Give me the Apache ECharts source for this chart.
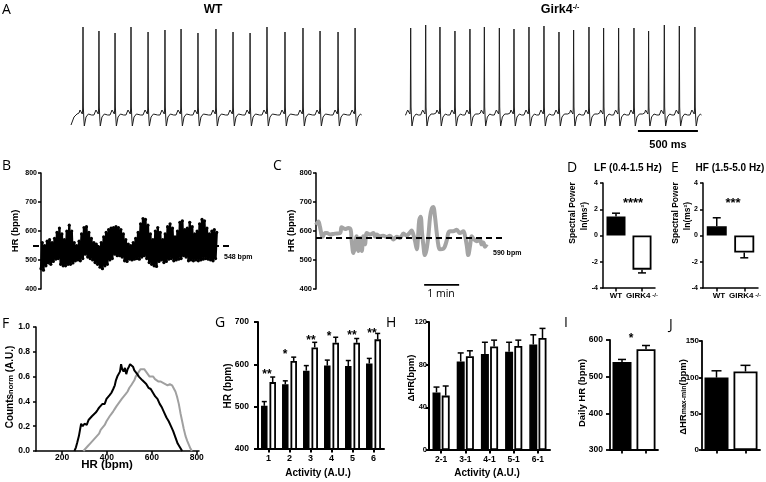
<!DOCTYPE html>
<html><head><meta charset="utf-8">
<script src="https://cdn.jsdelivr.net/npm/echarts@6/dist/echarts.min.js"></script>
<style>html,body{margin:0;padding:0;background:#fff}#c{width:766px;height:482px}</style>
</head><body><div id="c"></div><script>
// ---------- DATA ----------
// Panel A: ECG beats (time in ms, R amplitude in trace units)
const wtBeatTimes = [100,233,367,500,642,783,917,1058,1208,1350,1492,1633,1783,1933,2075,2225,2367];
const wtBeatPeaks = [88,84,82,88,83,85,86,82,86,83,82,88,83,87,84,83,87];
const koBeatTimes = [39,164,283,408,533,653,778,900,1025,1150,1275,1397,1525,1647,1772,1900,2022,2153,2278,2408];
const koBeatPeaks = [87,90,88,84,86,88,87,86,88,89,83,85,88,87,87,87,84,90,89,88];
const beatShapeMs  = [-62,-50,-42,-33,-25,-17,-10,-6,-3,0,3,7,11,17,25,33,45,55];
const beatShapeAmp = [0,1,0,2,5,3,4,1,6,null,8,-4,-11,-9,-2,-1,1,0];
const wtLead = [[0,-10],[25,-2]];
const koScaleStart = 1933, koScaleLen = 500, koScaleY = -16;
// Panel B: HR scatter envelope (low / high per time column)
const bHi = [560,550,565,570,560,575,595,610,590,570,600,620,600,560,550,565,590,612,615,595,575,560,555,545,560,580,595,605,610,612,615,612,605,590,570,555,550,560,575,595,625,643,640,620,590,570,600,612,595,570,590,615,625,610,580,600,630,635,605,610,630,615,590,600,625,640,635,610,590,600,605,595];
const bLo = [470,465,480,490,485,495,503,505,485,480,480,485,485,490,497,500,497,505,520,510,505,500,491,485,475,470,480,485,500,505,520,515,515,510,497,495,503,500,503,505,503,510,515,505,491,485,480,478,495,500,491,495,503,505,497,500,503,505,515,510,497,500,497,500,497,500,503,505,503,500,497,505];
const bMean = 548;
// Panel C: HR trace (minutes, bpm)
const cTimeMin = [0,0.07,0.11,0.19,0.26,0.31,0.4,0.54,0.69,0.73,0.83,0.92,0.99,1.02,1.07,1.11,1.16,1.21,1.26,1.31,1.35,1.4,1.45,1.54,1.64,1.69,1.73,1.83,1.92,2.02,2.11,2.21,2.31,2.4,2.5,2.59,2.69,2.73,2.78,2.83,2.88,2.92,2.95,2.99,3.03,3.07,3.11,3.16,3.21,3.26,3.31,3.35,3.4,3.45,3.5,3.54,3.64,3.73,3.78,3.83,3.92,4.02,4.11,4.21,4.26,4.31,4.35,4.4,4.45,4.5,4.59,4.69,4.73,4.78,4.83,4.88];
const cHR = [621,633,616,580,593,593,588,591,593,613,607,610,604,565,524,543,582,531,576,531,582,554,593,588,593,580,588,582,584,579,584,571,580,576,591,584,596,602,588,565,537,588,638,649,593,548,517,537,582,649,678,683,649,593,548,537,539,565,593,599,599,604,593,599,582,548,517,548,582,573,565,569,554,560,546,554];
const cMean = 576;
const cScaleStart = 3.09, cScaleLen = 1, cScaleY = 414;
// Panels D, E: spectral power
const dVals = [1.45,-2.6], dErr = [1.7,-2.85];
const eVals = [0.7,-1.3],  eErr = [1.35,-1.7];
// Panel F: HR histograms
const fBlackHR = [255,262,268,275,280,285,292,300,310,318,325,333,340,350,358,365,372,380,390,398,405,412,420,428,435,440,446,452,458,463,468,474,480,486,492,498,503,510,516,522,528,535,542,550,558,566,575,585,595,605,615,625,635,645,655,665,675,685,695,705,715,725,735];
const fBlackVal = [0,0.03,0.07,0.12,0.17,0.22,0.2,0.22,0.21,0.25,0.24,0.28,0.27,0.31,0.33,0.35,0.34,0.38,0.38,0.42,0.41,0.45,0.47,0.5,0.53,0.57,0.6,0.6,0.64,0.7,0.66,0.64,0.67,0.62,0.66,0.68,0.7,0.71,0.68,0.65,0.64,0.62,0.6,0.59,0.57,0.56,0.54,0.51,0.5,0.47,0.44,0.42,0.38,0.35,0.31,0.27,0.24,0.2,0.16,0.11,0.06,0.03,0];
const fGrayHR = [295,305,315,325,335,345,355,365,372,380,390,398,405,412,420,428,435,442,450,458,466,475,484,492,500,508,515,522,528,535,543,550,558,566,574,582,590,598,606,614,622,630,640,650,660,670,680,690,698,705,712,720,728,735,742,750,758,765,772,778];
const fGrayVal = [0,0.02,0.04,0.06,0.08,0.1,0.12,0.14,0.17,0.18,0.21,0.24,0.26,0.28,0.3,0.32,0.34,0.36,0.38,0.4,0.42,0.44,0.46,0.48,0.51,0.53,0.55,0.57,0.6,0.62,0.63,0.66,0.65,0.66,0.64,0.63,0.6,0.59,0.6,0.58,0.57,0.56,0.56,0.55,0.54,0.53,0.54,0.53,0.52,0.48,0.44,0.38,0.3,0.24,0.18,0.12,0.08,0.05,0.02,0];
// Panel G
const gCats = ['1','2','3','4','5','6'];
const gWT = [502,553,585,597,596,602], gWTErr = [512,561,597,610,609,614];
const gKO = [558,608,640,651,651,659], gKOErr = [570,617,652,664,661,673];
// Panel H
const hCats = ['2-1','3-1','4-1','5-1','6-1'];
const hWT = [54,83,90,92,99], hWTErr = [59,91,101,101,108];
const hKO = [51,88,97,97.5,105], hKOErr = [60,93,103,103,114];
// Panels I, J
const iVals = [540,575], iErr = [547,585];
const jVals = [99.6,108], jErr = [109,116.5];
const genoCats = ['WT','GIRK4'];

// ---------- BUILD ----------
const FONT = 'Liberation Sans';
function buildEcg(times, peaks, lead) {
  const pts = lead.slice();
  times.forEach((t0, k) => beatShapeMs.forEach((dt, j) => {
    pts.push([t0 + dt, beatShapeAmp[j] === null ? peaks[k] : beatShapeAmp[j]]);
  }));
  return pts;
}
const bPts = [];
bHi.forEach((h, i) => { bPts.push([i, bLo[i]]); bPts.push([i + 0.5, h]); });

function grid(l, t, w, h) { return {left:l, top:t, width:w, height:h, containLabel:false, outerBoundsMode:'none', show:false}; }
function yAx(gi, min, max, interval, fs, lw, margin, tick, fmt) {
  return {type:'value', gridIndex:gi, min, max, interval,
    axisLine:{show:true, lineStyle:{color:'#000', width:lw}},
    axisTick:{show:true, length:tick, lineStyle:{color:'#000', width:lw}},
    axisLabel:{show:true, color:'#000', fontSize:fs, fontWeight:'bold', fontFamily:FONT, margin, formatter:fmt},
    splitLine:{show:false}};
}
function xCat(gi, data, fs, lw, showLabel, margin) {
  return {type:'category', gridIndex:gi, data,
    axisLine:{show:true, onZero:false, lineStyle:{color:'#000', width:lw}},
    axisTick:{show:true, alignWithLabel:true, length:3.5, lineStyle:{color:'#000', width:lw}},
    axisLabel:{show:showLabel, color:'#000', fontSize:fs, fontWeight:'bold', fontFamily:FONT, margin:margin || 5, interval:0},
    splitLine:{show:false}};
}
function hx(gi, min, max) { return {type:'value', gridIndex:gi, min, max, show:false}; }
function hy(gi, min, max) { return {type:'value', gridIndex:gi, min, max, show:false}; }

function errSeries(ai, means, errs, off, cap, lw) {
  return {type:'custom', xAxisIndex:ai, yAxisIndex:ai, z:5,
    data: means.map((m, i) => [i, m, errs[i]]),
    renderItem: (params, api) => {
      const c = api.value(0);
      const p0 = api.coord([c, api.value(1)]), p1 = api.coord([c, api.value(2)]);
      const x = p0[0] + off;
      return {type:'group', children:[
        {type:'line', shape:{x1:x, y1:p0[1], x2:x, y2:p1[1]}, style:{stroke:'#000', lineWidth:lw}},
        {type:'line', shape:{x1:x-cap, y1:p1[1], x2:x+cap, y2:p1[1]}, style:{stroke:'#000', lineWidth:lw}}
      ]};
    }};
}
const BLK = {color:'#000', borderColor:'#000', borderWidth:1.5};
const WHT = {color:'#fff', borderColor:'#000', borderWidth:1.8};
function pairBar(ai, vals, style, bw, gap) {
  return {type:'bar', xAxisIndex:ai, yAxisIndex:ai, data:vals, barWidth:bw, barGap:gap, itemStyle:style, silent:true};
}
function twoBar(ai, vals, bw) {
  return {type:'bar', xAxisIndex:ai, yAxisIndex:ai, barWidth:bw, silent:true,
    data:[{value:vals[0], itemStyle:BLK}, {value:vals[1], itemStyle:WHT}]};
}

const grids = [
  grid(71, 20, 292, 115),   // 0 WT ECG
  grid(406, 20, 296, 115),  // 1 KO ECG
  grid(41, 173, 177, 116),  // 2 B
  grid(33, 173, 197, 116),  // 3 B mean line
  grid(316, 173, 189, 116), // 4 C
  grid(603, 183, 52, 105),  // 5 D
  grid(703, 183, 55, 105),  // 6 E
  grid(36, 327, 163, 124),  // 7 F
  grid(258, 322, 126, 127), // 8 G
  grid(429, 322, 121, 128), // 9 H
  grid(610, 340, 48, 110),  // 10 I
  grid(702, 341, 58, 109)   // 11 J
];
const xAxes = [
  hx(0, 0, 2433), hx(1, 0, 2467), hx(2, 0, 72), hx(3, 0, 1), hx(4, 0, 5.4),
  xCat(5, genoCats, 8, 1.5, false), xCat(6, genoCats, 8, 1.5, false),
  {type:'value', gridIndex:7, min:84, max:810,
    axisLine:{show:true, onZero:false, lineStyle:{color:'#000', width:1.5}},
    axisTick:{show:true, length:3, customValues:[200,400,600,800], lineStyle:{color:'#000', width:1.5}},
    axisLabel:{show:true, customValues:[200,400,600,800], color:'#000', fontSize:8.5, fontWeight:'bold', fontFamily:FONT, margin:2},
    splitLine:{show:false}},
  xCat(8, gCats, 9, 2, true, 5), xCat(9, hCats, 8.5, 2, true, 5),
  xCat(10, genoCats, 8, 1.8, false), xCat(11, genoCats, 8, 1.8, false)
];
const yAxes = [
  hy(0, -20, 95), hy(1, -20, 95),
  yAx(2, 400, 800, 100, 7, 1.5, 4, 3), hy(3, 400, 800),
  yAx(4, 400, 800, 100, 7.5, 1.5, 4, 3),
  yAx(5, -4, 4, 2, 7, 1.5, 5, 3), yAx(6, -4, 4, 2, 7, 1.5, 5, 3),
  yAx(7, 0, 1, 0.2, 8.5, 1.5, 6, 3, v => v.toFixed(1)),
  yAx(8, 400, 700, 100, 8.5, 2, 9, 4), yAx(9, 0, 120, 40, 7.5, 2, 2, 3),
  yAx(10, 300, 600, 100, 8.5, 1.8, 7, 4), yAx(11, 0, 150, 50, 8, 1.8, 3, 3)
];

const series = [
  {type:'line', xAxisIndex:0, yAxisIndex:0, data:buildEcg(wtBeatTimes, wtBeatPeaks, wtLead), showSymbol:false, lineStyle:{color:'#1e1e1e', width:1}, silent:true},
  {type:'line', xAxisIndex:1, yAxisIndex:1, data:buildEcg(koBeatTimes, koBeatPeaks, []), showSymbol:false, lineStyle:{color:'#1e1e1e', width:1}, silent:true},
  {type:'line', xAxisIndex:1, yAxisIndex:1, data:[[koScaleStart, koScaleY],[koScaleStart+koScaleLen, koScaleY]], showSymbol:false, clip:false, lineStyle:{color:'#000', width:2}},
  {type:'line', xAxisIndex:3, yAxisIndex:3, data:[[0,bMean],[1,bMean]], showSymbol:false, z:1, lineStyle:{color:'#000', width:2, type:[6,4]}},
  {type:'line', xAxisIndex:2, yAxisIndex:2, data:bPts, symbol:'circle', symbolSize:3.2, showSymbol:true, z:3,
    itemStyle:{color:'#000'}, lineStyle:{color:'#000', width:2.3}, silent:true},
  {type:'line', xAxisIndex:4, yAxisIndex:4, data:cTimeMin.map((t,i)=>[t,cHR[i]]), showSymbol:false, smooth:0.35, lineStyle:{color:'#a4a4a4', width:4}, silent:true},
  {type:'line', xAxisIndex:4, yAxisIndex:4, data:[[0,cMean],[5.34,cMean]], showSymbol:false, z:4, lineStyle:{color:'#000', width:2, type:[6,4]}},
  {type:'line', xAxisIndex:4, yAxisIndex:4, data:[[cScaleStart,cScaleY],[cScaleStart+cScaleLen,cScaleY]], showSymbol:false, lineStyle:{color:'#000', width:1.8}},
  twoBar(5, dVals, 19), errSeries(5, dVals, dErr, 0, 4, 1.5),
  twoBar(6, eVals, 20), errSeries(6, eVals, eErr, 0, 4, 1.5),
  {type:'line', xAxisIndex:7, yAxisIndex:7, data:fGrayHR.map((x,i)=>[x,fGrayVal[i]]), showSymbol:false, lineStyle:{color:'#a0a0a0', width:2}, silent:true},
  {type:'line', xAxisIndex:7, yAxisIndex:7, data:fBlackHR.map((x,i)=>[x,fBlackVal[i]]), showSymbol:false, lineStyle:{color:'#000', width:2}, silent:true},
  pairBar(8, gWT, BLK, 6.5, '30%'), pairBar(8, gKO, WHT, 6.5, '30%'),
  errSeries(8, gWT, gWTErr, -4.2, 2.5, 1.5), errSeries(8, gKO, gKOErr, 4.2, 2.5, 1.5),
  pairBar(9, hWT, BLK, 8, '15%'), pairBar(9, hKO, WHT, 8, '15%'),
  errSeries(9, hWT, hWTErr, -4.6, 3, 1.5), errSeries(9, hKO, hKOErr, 4.6, 3, 1.5),
  twoBar(10, iVals, 19), errSeries(10, iVals, iErr, 0, 4, 1.5),
  twoBar(11, jVals, 24), errSeries(11, jVals, jErr, 0, 5, 1.5)
];

function T(x, y, text, fs, bold, opt) {
  opt = opt || {};
  return {type:'text', x, y, rotation:opt.rot || 0, silent:true, z:100,
    style:{text, fontSize:fs, fontWeight:bold ? 'bold' : 'normal', fontFamily:opt.font || FONT, fill:'#000',
      align:opt.align || 'center', verticalAlign:'middle', rich:opt.rich}};
}
const R90 = Math.PI / 2;
const LET = {font:'Open Sans', align:'left'};
const SUP = (fa, fs) => ({a:{fontSize:fa, fontWeight:'bold', fontFamily:FONT}, s:{fontSize:fs, fontWeight:'bold', fontFamily:FONT, verticalAlign:'top'}});
const SUB = (fa, fs) => ({a:{fontSize:fa, fontWeight:'bold', fontFamily:FONT}, s:{fontSize:fs, fontWeight:'bold', fontFamily:FONT, verticalAlign:'bottom'}});
const graphics = [
  T(2, 10, 'A', 14, false, LET), T(2, 166, 'B', 14, false, LET), T(273, 166, 'C', 14, false, LET),
  T(567, 168, 'D', 14, false, LET), T(671, 168, 'E', 14, false, LET),
  T(2, 324, 'F', 14, false, LET), T(215, 323, 'G', 14, false, LET), T(386, 323, 'H', 14, false, LET),
  T(564, 323, 'I', 14, false, LET), T(669, 325, 'J', 14, false, LET),
  T(213, 10, 'WT', 12, true),
  T(560, 10, '{a|Girk4}{s|-/-}', 12, true, {rich:SUP(12.5, 7)}),
  T(668, 145, '500 ms', 11, true),
  T(224, 257, '548 bpm', 7, true, {align:'left'}),
  T(493, 253, '590 bpm', 7, true, {align:'left'}),
  T(441, 294, '1 min', 10.5, false, {font:'Open Sans'}),
  T(15, 231, 'HR (bpm)', 9.5, true, {rot:R90}),
  T(291, 231, 'HR (bpm)', 9.5, true, {rot:R90}),
  T(628, 168, 'LF (0.4-1.5 Hz)', 10, true),
  T(730, 168, 'HF (1.5-5.0 Hz)', 10, true),
  T(573, 213, 'Spectral Power', 8.5, true, {rot:R90}),
  T(585, 216, 'ln(ms\u00b2)', 8.5, true, {rot:R90}),
  T(676, 213, 'Spectral Power', 8.5, true, {rot:R90}),
  T(688, 216, 'ln(ms\u00b2)', 8.5, true, {rot:R90}),
  T(633, 203, '****', 13, true), T(733, 203, '***', 13, true),
  T(616, 296, 'WT', 8, true), T(642, 296, '{a|GIRK4}{s| -/-}', 8, true, {rich:SUP(8, 6)}),
  T(719, 296, 'WT', 8, true), T(745, 296, '{a|GIRK4}{s| -/-}', 8, true, {rich:SUP(8, 6)}),
  T(10, 387, '{a|Counts}{s|norm}{a| (A.U.)}', 10, true, {rot:R90, rich:SUB(10, 7.5)}),
  T(107, 465, 'HR (bpm)', 11.5, true),
  T(228, 386, 'HR (bpm)', 10, true, {rot:R90}),
  T(318, 473, 'Activity (A.U.)', 10, true),
  T(411, 378, '\u0394HR(bpm)', 9.5, true, {rot:R90}),
  T(487, 473, 'Activity (A.U.)', 10, true),
  T(582, 393, 'Daily HR (bpm)', 9.5, true, {rot:R90}),
  T(683, 397, '{a|\u0394HR}{s|max-min}{a|(bpm)}', 9.5, true, {rot:R90, rich:SUB(9.5, 7)}),
  T(267, 375, '**', 12, true), T(285, 355, '*', 12, true), T(311, 341, '**', 12, true),
  T(329, 337, '*', 12, true), T(352, 336, '**', 12, true), T(372, 334, '**', 12, true),
  T(631, 339, '*', 12, true)
];

const chart = echarts.init(document.getElementById('c'), null, {renderer:'canvas'});
chart.setOption({animation:false, backgroundColor:'#fff', grid:grids, xAxis:xAxes, yAxis:yAxes, series, graphic:graphics});
</script></body></html>
